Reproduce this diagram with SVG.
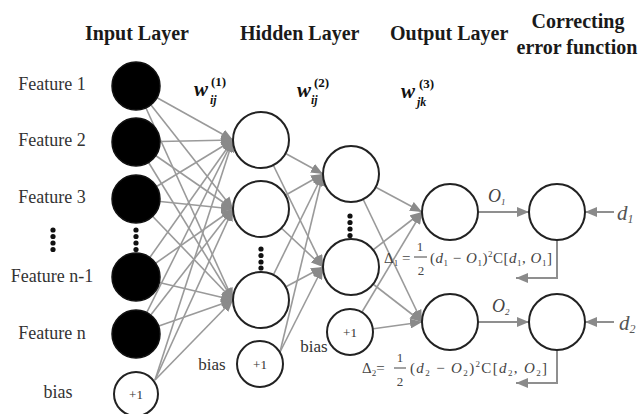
<svg xmlns="http://www.w3.org/2000/svg" width="643" height="414" viewBox="0 0 643 414" font-family="'Liberation Serif', 'DejaVu Serif', serif">
  <style>
    text { font-family: 'Liberation Serif', 'DejaVu Serif', serif; fill: #222; }
    .title { font-size: 20px; font-weight: bold; fill: #1a1a1a; }
    .feat { font-size: 18px; fill: #333; text-anchor: middle; }
    .one { font-size: 13px; text-anchor: middle; fill: #333; }
    .w { font-size: 21px; font-weight: bold; font-style: italic; fill: #111; }
    .wsup { font-size: 13px; font-weight: bold; fill: #111; }
    .wsub { font-size: 12px; font-weight: bold; font-style: italic; fill: #111; }
    .fx { font-size: 15px; fill: #444; }
    .i { font-style: italic; }
    .s { font-size: 9px; }
    .lbl { font-size: 18px; font-style: italic; fill: #444; }
    .dl { font-size: 21px; font-style: italic; fill: #555; }
    .edge { stroke: #9a9a9a; stroke-width: 1.6; fill: none; }
    .flow { stroke: #8f8f8f; stroke-width: 2; fill: none; }
    .black { fill: #000; stroke: #111; stroke-width: 1.5; }
    .open { fill: #fff; stroke: #222; stroke-width: 2; }
    .dot { fill: #111; }
    .bar { stroke: #444; stroke-width: 1; }
  </style>
  <defs>
    <marker id="ah" viewBox="0 0 12 10" refX="12" refY="5" markerWidth="12" markerHeight="10" markerUnits="userSpaceOnUse" orient="auto">
      <path d="M0,0 L12,5 L0,10 z" fill="#8a8a8a"/>
    </marker>
  </defs>

  <!-- column headings -->
  <g id="headings">
    <text class="title" x="85" y="40">Input Layer</text>
    <text class="title" x="240" y="40">Hidden Layer</text>
    <text class="title" x="390" y="40">Output Layer</text>
    <text class="title" x="578" y="28" text-anchor="middle">Correcting</text>
    <text class="title" x="577" y="54" text-anchor="middle">error function</text>
  </g>

  <!-- weight labels -->
  <g id="weights">
    <text class="w" x="194" y="96">w</text>
    <text class="wsup" x="211" y="86">(1)</text>
    <text class="wsub" x="210" y="104">ij</text>
    <text class="w" x="297" y="97">w</text>
    <text class="wsup" x="314" y="87">(2)</text>
    <text class="wsub" x="311" y="104">ij</text>
    <text class="w" x="401" y="98">w</text>
    <text class="wsup" x="419" y="88">(3)</text>
    <text class="wsub" x="417" y="106">jk</text>
  </g>

  <!-- feature labels -->
  <g id="features">
    <text class="feat" x="52" y="90">Feature 1</text>
    <text class="feat" x="52" y="146">Feature 2</text>
    <text class="feat" x="52" y="203">Feature 3</text>
    <circle class="dot" cx="53" cy="230" r="2.6"/>
    <circle class="dot" cx="53" cy="236.5" r="2.6"/>
    <circle class="dot" cx="53" cy="243" r="2.6"/>
    <circle class="dot" cx="53" cy="249.5" r="2.6"/>
    <text class="feat" x="52" y="282">Feature n-1</text>
    <text class="feat" x="52" y="339">Feature n</text>
    <text class="feat" x="58" y="398">bias</text>
  </g>

  <!-- connectors -->
  <g id="connectors">
    <!-- input layer to first hidden layer -->
    <path class="edge" marker-end="url(#ah)" d="M136,86 L233,140"/>
    <path class="edge" marker-end="url(#ah)" d="M136,86 L233,209"/>
    <path class="edge" marker-end="url(#ah)" d="M136,86 L233,300"/>
    <path class="edge" marker-end="url(#ah)" d="M136,142 L233,140"/>
    <path class="edge" marker-end="url(#ah)" d="M136,142 L233,209"/>
    <path class="edge" marker-end="url(#ah)" d="M136,142 L233,300"/>
    <path class="edge" marker-end="url(#ah)" d="M136,199 L233,140"/>
    <path class="edge" marker-end="url(#ah)" d="M136,199 L233,209"/>
    <path class="edge" marker-end="url(#ah)" d="M136,199 L233,300"/>
    <path class="edge" marker-end="url(#ah)" d="M136,277 L233,140"/>
    <path class="edge" marker-end="url(#ah)" d="M136,277 L233,209"/>
    <path class="edge" marker-end="url(#ah)" d="M136,277 L233,300"/>
    <path class="edge" marker-end="url(#ah)" d="M136,334 L233,140"/>
    <path class="edge" marker-end="url(#ah)" d="M136,334 L233,209"/>
    <path class="edge" marker-end="url(#ah)" d="M136,334 L233,300"/>
    <path class="edge" marker-end="url(#ah)" d="M155,380 L233,140"/>
    <path class="edge" marker-end="url(#ah)" d="M155,380 L233,209"/>
    <path class="edge" marker-end="url(#ah)" d="M155,380 L233,300"/>
    <!-- first hidden layer to second hidden layer -->
    <path class="edge" marker-end="url(#ah)" d="M261,140 L323,174"/>
    <path class="edge" marker-end="url(#ah)" d="M261,140 L323,267"/>
    <path class="edge" marker-end="url(#ah)" d="M261,209 L323,174"/>
    <path class="edge" marker-end="url(#ah)" d="M261,209 L323,267"/>
    <path class="edge" marker-end="url(#ah)" d="M261,300 L323,174"/>
    <path class="edge" marker-end="url(#ah)" d="M261,300 L323,267"/>
    <path class="edge" marker-end="url(#ah)" d="M280,352 L323,174"/>
    <path class="edge" marker-end="url(#ah)" d="M280,352 L323,267"/>
    <!-- second hidden layer to output layer -->
    <path class="edge" marker-end="url(#ah)" d="M351,174 L422,212"/>
    <path class="edge" marker-end="url(#ah)" d="M351,174 L422,322"/>
    <path class="edge" marker-end="url(#ah)" d="M351,267 L422,212"/>
    <path class="edge" marker-end="url(#ah)" d="M351,267 L422,322"/>
    <path class="edge" marker-end="url(#ah)" d="M350,332 L422,212"/>
    <path class="edge" marker-end="url(#ah)" d="M350,332 L422,322"/>
    <!-- outputs to error correction, targets and feedback -->
    <path class="flow" marker-end="url(#ah)" d="M478,212 L529,212"/>
    <path class="flow" marker-end="url(#ah)" d="M478,322 L529,322"/>
    <path class="flow" marker-end="url(#ah)" d="M614,212 L585,212"/>
    <path class="flow" marker-end="url(#ah)" d="M614,322 L585,322"/>
    <path class="flow" marker-end="url(#ah)" d="M557,240 L557,278 L516,278"/>
    <path class="flow" marker-end="url(#ah)" d="M557,350 L557,383 L516,383"/>
  </g>

  <!-- input layer -->
  <g id="in1"><circle class="black" cx="136" cy="86" r="24"/></g>
  <g id="in2"><circle class="black" cx="136" cy="142" r="24"/></g>
  <g id="in3"><circle class="black" cx="136" cy="199" r="24"/></g>
  <g id="in-dots">
    <circle class="dot" cx="136" cy="230" r="2.6"/>
    <circle class="dot" cx="136" cy="236.5" r="2.6"/>
    <circle class="dot" cx="136" cy="243" r="2.6"/>
    <circle class="dot" cx="136" cy="249.5" r="2.6"/>
  </g>
  <g id="in-n1"><circle class="black" cx="136" cy="277" r="24"/></g>
  <g id="in-n"><circle class="black" cx="136" cy="334" r="24"/></g>
  <g id="in-bias">
    <circle class="open" cx="136" cy="394" r="22"/>
    <text class="one" x="136" y="399">+1</text>
  </g>

  <!-- first hidden layer -->
  <g id="h1a"><circle class="open" cx="261" cy="140" r="28"/></g>
  <g id="h1b"><circle class="open" cx="261" cy="209" r="28"/></g>
  <g id="h1-dots">
    <circle class="dot" cx="261" cy="249" r="2.6"/>
    <circle class="dot" cx="261" cy="255.5" r="2.6"/>
    <circle class="dot" cx="261" cy="262" r="2.6"/>
    <circle class="dot" cx="261" cy="268" r="2.6"/>
  </g>
  <g id="h1c"><circle class="open" cx="261" cy="300" r="28"/></g>
  <g id="h1-bias">
    <text class="feat" x="212" y="370" style="font-size:17px">bias</text>
    <circle class="open" cx="260" cy="364" r="23"/>
    <text class="one" x="260" y="369">+1</text>
  </g>

  <!-- second hidden layer -->
  <g id="h2a"><circle class="open" cx="351" cy="174" r="28"/></g>
  <g id="h2-dots">
    <circle class="dot" cx="350" cy="216" r="2.6"/>
    <circle class="dot" cx="350" cy="222.5" r="2.6"/>
    <circle class="dot" cx="350" cy="229" r="2.6"/>
    <circle class="dot" cx="350" cy="235.5" r="2.6"/>
  </g>
  <g id="h2b"><circle class="open" cx="351" cy="267" r="28"/></g>
  <g id="h2-bias">
    <text class="feat" x="314" y="352" style="font-size:17px">bias</text>
    <circle class="open" cx="350" cy="332" r="23"/>
    <text class="one" x="350" y="337">+1</text>
  </g>

  <!-- output layer -->
  <g id="out1"><circle class="open" cx="450" cy="212" r="28"/></g>
  <g id="out2"><circle class="open" cx="450" cy="322" r="28"/></g>

  <!-- error correction -->
  <g id="err1"><circle class="open" cx="557" cy="212" r="28"/></g>
  <g id="err2"><circle class="open" cx="557" cy="322" r="28"/></g>

  <!-- edge labels -->
  <g id="labels">
    <text class="lbl" x="488" y="202">O<tspan class="s" dy="3">1</tspan></text>
    <text class="lbl" x="492" y="312">O<tspan class="s" dy="3">2</tspan></text>
    <text class="dl" x="617" y="220">d<tspan font-size="12" dy="3">1</tspan></text>
    <text class="dl" x="619" y="330">d<tspan font-size="12" dy="3">2</tspan></text>
  </g>

  <!-- error terms -->
  <g id="delta1">
    <text class="fx" x="384" y="263">Δ<tspan class="s" dy="3">1</tspan><tspan dy="-3"> =</tspan></text>
    <text class="fx" x="420" y="251" text-anchor="middle" style="font-size:13px">1</text>
    <line class="bar" x1="414" y1="257" x2="427" y2="257"/>
    <text class="fx" x="421" y="275" text-anchor="middle" style="font-size:13px">2</text>
    <text class="fx" x="430" y="263" textLength="122" lengthAdjust="spacing">(<tspan class="i">d</tspan><tspan class="s" dy="3">1</tspan><tspan dy="-3"> − </tspan><tspan class="i">O</tspan><tspan class="s" dy="3">1</tspan><tspan dy="-3">)</tspan><tspan class="s" dy="-6">2</tspan><tspan dy="6">C[</tspan><tspan class="i">d</tspan><tspan class="s" dy="3">1</tspan><tspan dy="-3">, </tspan><tspan class="i">O</tspan><tspan class="s" dy="3">1</tspan><tspan dy="-3">]</tspan></text>
  </g>
  <g id="delta2">
    <text class="fx" x="362" y="373">Δ<tspan class="s" dy="3">2</tspan><tspan dy="-3">=</tspan></text>
    <text class="fx" x="400" y="362" text-anchor="middle" style="font-size:13px">1</text>
    <line class="bar" x1="394" y1="368" x2="406" y2="368"/>
    <text class="fx" x="400" y="386" text-anchor="middle" style="font-size:13px">2</text>
    <text class="fx" x="410" y="373" textLength="137" lengthAdjust="spacing">(<tspan class="i">d</tspan><tspan class="s" dy="3">2</tspan><tspan dy="-3"> − </tspan><tspan class="i">O</tspan><tspan class="s" dy="3">2</tspan><tspan dy="-3">)</tspan><tspan class="s" dy="-6">2</tspan><tspan dy="6">C[</tspan><tspan class="i">d</tspan><tspan class="s" dy="3">2</tspan><tspan dy="-3">, </tspan><tspan class="i">O</tspan><tspan class="s" dy="3">2</tspan><tspan dy="-3">]</tspan></text>
  </g>
</svg>
